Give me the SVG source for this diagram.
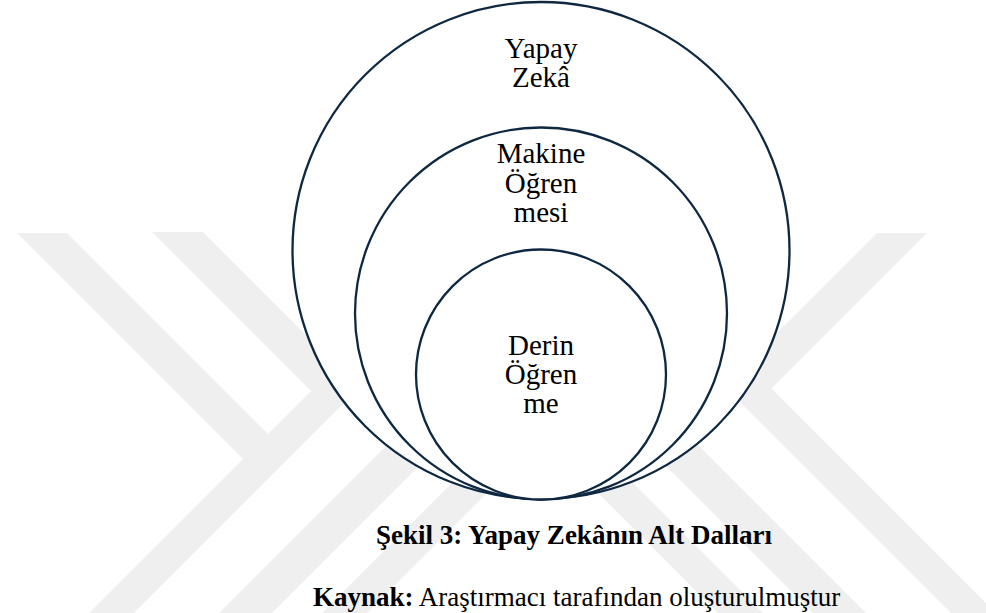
<svg xmlns="http://www.w3.org/2000/svg" width="986" height="613" viewBox="0 0 986 613">
  <defs>
    <style>
      .wm { fill: #efefef; stroke: none; }
      .ring { fill: #ffffff; stroke: #0e2841; stroke-width: 2.3; }
      .lbl { font-family: "Liberation Serif", "Times New Roman", serif; font-size: 29px; fill: #000000; text-anchor: middle; }
      .cap { font-family: "Liberation Serif", "Times New Roman", serif; font-size: 27px; fill: #000000; }
      .b { font-weight: bold; }
    </style>
  </defs>
  <rect x="0" y="0" width="986" height="613" fill="#ffffff"/>

  <g id="watermark">
    <polygon class="wm" points="89,613 542.5,159.5 996,613 951,613 542.5,204.5 134,613"/>
    <polygon class="wm" points="219,613 542.5,289.5 866,613 813,613 542.5,342.5 272,613"/>
    <polygon class="wm" points="322,613 542.5,392.5 763,613 718,613 542.5,437.5 367,613"/>
    <polygon class="wm" points="17,233 67,233 268,434 243,459"/>
    <polygon class="wm" points="152,232 203,232 336.5,365.5 311,391"/>
    <polygon class="wm" points="877,233 927,233 771.5,388.5 746.5,363.5"/>
  </g>

  <g id="connectors"></g>

  <g id="node-yapay-zeka">
    <circle class="ring" cx="541" cy="250.5" r="248.5"/>
    <text class="lbl" x="541" y="58">Yapay</text>
    <text class="lbl" x="541" y="87">Zekâ</text>
  </g>

  <g id="node-makine-ogrenmesi">
    <circle class="ring" cx="541" cy="313.5" r="186"/>
    <text class="lbl" x="541" y="163">Makine</text>
    <text class="lbl" x="541" y="193">Öğren</text>
    <text class="lbl" x="541" y="222">mesi</text>
  </g>

  <g id="node-derin-ogrenme">
    <circle class="ring" cx="541" cy="374.5" r="125"/>
    <text class="lbl" x="541" y="355">Derin</text>
    <text class="lbl" x="541" y="384">Öğren</text>
    <text class="lbl" x="541" y="413">me</text>
  </g>

  <g id="caption">
    <text class="cap b" x="574" y="544" text-anchor="middle">Şekil 3: Yapay Zekânın Alt Dalları</text>
    <text class="cap" x="313" y="606"><tspan class="b">Kaynak:</tspan> Araştırmacı tarafından oluşturulmuştur</text>
  </g>
</svg>
